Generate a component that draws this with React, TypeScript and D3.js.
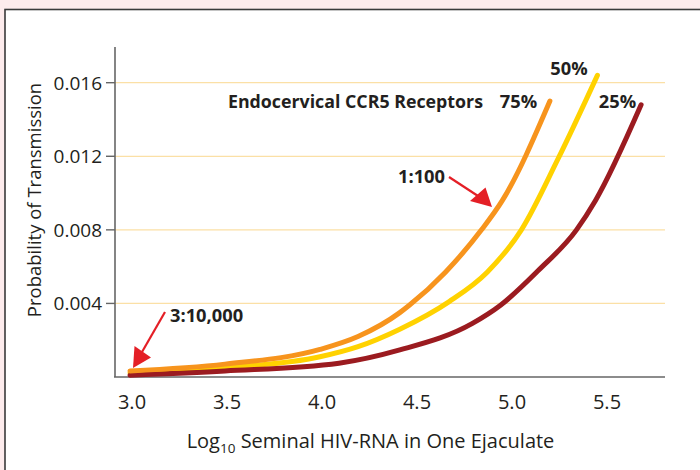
import React from "react";
import * as d3 from "d3";

// ---- data ----
const xTicks = [3.0, 3.5, 4.0, 4.5, 5.0, 5.5];
const yTicks = [0.004, 0.008, 0.012, 0.016];
const yTickLabels = ["0.004", "0.008", "0.012", "0.016"];

const orangeX = [3.0, 3.5, 4.0, 4.2, 4.42, 4.47, 4.66, 4.85, 4.96, 5.21];
const orangeY = [0.00033, 0.0007, 0.0015, 0.0022, 0.0035, 0.0039, 0.0057, 0.008, 0.0096, 0.015];

const yellowX = [3.0, 3.5, 4.0, 4.2, 4.42, 4.68, 4.88, 5.06, 5.25, 5.46];
const yellowY = [0.00022, 0.0005, 0.0011, 0.00165, 0.0026, 0.0041, 0.0057, 0.008, 0.0118, 0.0164];

const redX = [3.0, 3.5, 4.1, 4.42, 4.8, 4.95, 5.15, 5.35, 5.45, 5.69];
const redY = [0.0001, 0.00033, 0.00075, 0.00147, 0.0029, 0.0039, 0.0058, 0.008, 0.0096, 0.0148];

const seriesNames = ["50%", "25%", "75%"];
const seriesColors = ["#ffd200", "#9b1b20", "#f7941d"];

const W = 700;
const H = 470;
const FONT = "'Open Sans', 'Noto Sans', sans-serif";
const TEXT = "#231f20";

export default function App() {
  const x = d3.scaleLinear().domain([3.0, 5.5]).range([130, 605]);
  const y = d3.scaleLinear().domain([0, 0.016]).range([377, 82.7]);
  const line = d3
    .line<[number, number]>()
    .x((d) => x(d[0]))
    .y((d) => y(d[1]))
    .curve(d3.curveMonotoneX);

  const series = [
    d3.zip(yellowX, yellowY) as [number, number][],
    d3.zip(redX, redY) as [number, number][],
    d3.zip(orangeX, orangeY) as [number, number][],
  ];

  const axisLeft = 115;
  const axisRight = 665;
  const axisTop = 47;
  const axisBottom = 377;

  return (
    <svg
      width={W}
      height={H}
      style={{ position: "absolute", left: 0, top: 0 }}
      fontFamily={FONT}
    >
      <rect x={0} y={0} width={W} height={H} fill="#fdebec" />
      <rect x={5} y={9.5} width={W} height={H} fill="#ffffff" stroke="#3a3a3a" strokeWidth={1.6} />

      {/* gridlines */}
      {yTicks.map((t) => (
        <line
          key={"g" + t}
          x1={axisLeft}
          x2={axisRight}
          y1={y(t)}
          y2={y(t)}
          stroke="#fbe0a6"
          strokeWidth={1.2}
        />
      ))}

      {/* axes */}
      <line x1={axisLeft} x2={axisLeft} y1={axisTop} y2={axisBottom} stroke="#666" strokeWidth={1.6} />
      <line x1={axisLeft - 1} x2={axisRight} y1={axisBottom} y2={axisBottom} stroke="#666" strokeWidth={1.6} />

      {/* y ticks */}
      {yTicks.map((t, i) => (
        <g key={"t" + t}>
          <line x1={axisLeft - 9} x2={axisLeft} y1={y(t)} y2={y(t)} stroke="#666" strokeWidth={1.4} />
          <text
            x={102}
            y={y(t) + 7}
            textAnchor="end"
            fontSize={19}
            fill={TEXT}
          >
            {yTickLabels[i]}
          </text>
        </g>
      ))}

      {/* x tick labels */}
      {xTicks.map((t) => (
        <text key={"x" + t} x={x(t) + 2} y={409} textAnchor="middle" fontSize={20} fill={TEXT}>
          {t.toFixed(1)}
        </text>
      ))}

      {/* axis titles */}
      <text
        transform="translate(41,200) rotate(-90)"
        textAnchor="middle"
        fontSize={18.5}
        fill={TEXT}
      >
        Probability of Transmission
      </text>
      <text x={370.5} y={448} textAnchor="middle" fontSize={20} fill={TEXT}>
        Log
        <tspan fontSize={13.5} dy={5}>10</tspan>
        <tspan dy={-5}> Seminal HIV-RNA in One Ejaculate</tspan>
      </text>

      {/* curves */}
      {series.map((s, i) => (
        <path
          key={seriesNames[i]}
          d={line(s) || ""}
          fill="none"
          stroke={seriesColors[i]}
          strokeWidth={5}
          strokeLinecap="round"
          strokeLinejoin="round"
        />
      ))}

      {/* series labels */}
      <text x={569} y={75} textAnchor="middle" fontSize={18.3} fontWeight="bold" fill={TEXT}>
        50%
      </text>
      <text x={518.5} y={108} textAnchor="middle" fontSize={18.3} fontWeight="bold" fill={TEXT}>
        75%
      </text>
      <text x={617.5} y={108} textAnchor="middle" fontSize={18.3} fontWeight="bold" fill={TEXT}>
        25%
      </text>
      <text x={483} y={108} textAnchor="end" fontSize={17.8} fontWeight="bold" fill={TEXT}>
        Endocervical CCR5 Receptors
      </text>

      {/* annotations */}
      <text x={398} y={183} fontSize={18.3} fontWeight="bold" fill={TEXT}>
        1:100
      </text>
      <line x1={449} y1={177} x2={478} y2={196} stroke="#e41f26" strokeWidth={2.2} />
      <polygon points="470,201 485.5,187.5 492,207" fill="#e41f26" />

      <text x={170} y={322} fontSize={18.3} fontWeight="bold" fill={TEXT}>
        3:10,000
      </text>
      <line x1={165} y1={312} x2={142} y2={352} stroke="#e41f26" strokeWidth={2.2} />
      <polygon points="133,368 134.5,346 151,357.5" fill="#e41f26" />
    </svg>
  );
}
